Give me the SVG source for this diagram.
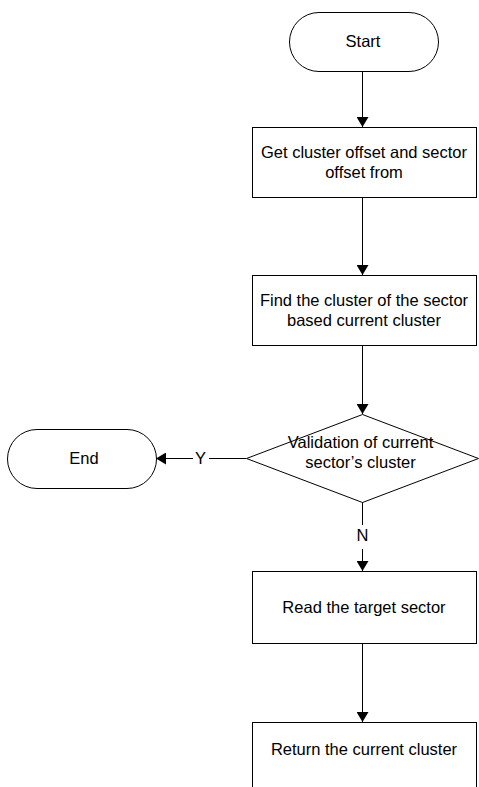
<svg xmlns="http://www.w3.org/2000/svg" width="479" height="787" viewBox="0 0 479 787">
<defs>
<style>
.s{fill:#fff;stroke:#000;stroke-width:1}
.t{font-family:"Liberation Sans",Arial,sans-serif;font-size:16.5px;fill:#000;text-anchor:middle}
.c{fill:none;stroke:#000;stroke-width:1}
</style>
<marker id="ah" markerUnits="userSpaceOnUse" markerWidth="11" markerHeight="12" refX="10" refY="6" orient="auto">
<path d="M0,0 L10,6 L0,12 z" fill="#000"/>
</marker>
</defs>
<rect width="479" height="787" fill="#fff"/>
<g id="connectors">
<line class="c" x1="362.5" y1="71" x2="362.5" y2="127" marker-end="url(#ah)"/>
<line class="c" x1="362.5" y1="197" x2="362.5" y2="275" marker-end="url(#ah)"/>
<line class="c" x1="362.5" y1="346" x2="362.5" y2="414" marker-end="url(#ah)"/>
<line class="c" x1="362.5" y1="502" x2="362.5" y2="525"/>
<line class="c" x1="362.5" y1="549" x2="362.5" y2="571" marker-end="url(#ah)"/>
<line class="c" x1="362.5" y1="643" x2="362.5" y2="722" marker-end="url(#ah)"/>
<line class="c" x1="246" y1="458.5" x2="209" y2="458.5"/>
<line class="c" x1="193" y1="458.5" x2="156" y2="458.5" marker-end="url(#ah)"/>
<text class="t" x="200.5" y="464">Y</text>
<text class="t" x="362.5" y="541">N</text>
</g>
<g id="start">
<rect class="s" x="289.5" y="12.5" width="149" height="59" rx="29.5" ry="29.5"/>
<text class="t" x="363" y="47">Start</text>
</g>
<g id="get-offset">
<rect class="s" x="252.5" y="127.5" width="224" height="70"/>
<text class="t" x="364" y="158">Get cluster offset and sector</text>
<text class="t" x="364" y="178">offset from</text>
</g>
<g id="find-cluster">
<rect class="s" x="252.5" y="275.5" width="224" height="70"/>
<text class="t" x="364" y="306">Find the cluster of the sector</text>
<text class="t" x="364" y="326">based current cluster</text>
</g>
<g id="validation">
<polygon class="s" points="362.5,414.5 478.5,458.5 362.5,502.5 246.5,458.5"/>
<text class="t" x="360.5" y="448">Validation of current</text>
<text class="t" x="360.5" y="468">sector’s cluster</text>
</g>
<g id="end">
<rect class="s" x="7.5" y="429.5" width="149" height="59" rx="29.5" ry="29.5"/>
<text class="t" x="84" y="464">End</text>
</g>
<g id="read-sector">
<rect class="s" x="252.5" y="571.5" width="224" height="72"/>
<text class="t" x="364" y="613">Read the target sector</text>
</g>
<g id="return-cluster">
<rect class="s" x="252.5" y="722.5" width="224" height="80"/>
<text class="t" x="364" y="755">Return the current cluster</text>
</g>
</svg>
